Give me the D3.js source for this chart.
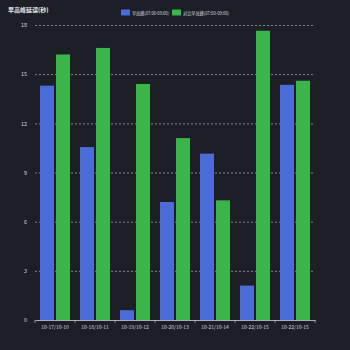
<!DOCTYPE html>
<html><head><meta charset="utf-8">
<script src="https://cdn.jsdelivr.net/npm/d3@7/dist/d3.min.js"></script>
<style>html,body{margin:0;padding:0;background:#1c1f26;}svg{display:block;}</style>
</head><body>
<script>
const categories = ["10-17/10-10","10-18/10-11","10-19/10-12","10-20/10-13","10-21/10-14","10-22/10-15","10-22/10-15"];
const seriesNames = ["早高峰(07:00-09:00)","对比早高峰(07:00-09:00)"];
const seriesA = [14.3, 10.55, 0.6, 7.2, 10.15, 2.1, 14.35];
const seriesB = [16.2, 16.6, 14.4, 11.1, 7.3, 17.65, 14.6];
const yTicks = [0,3,6,9,12,15,18];
const colors = ["#4a6bd8","#3ab54a"];

const W=350,H=350, m={l:35,r:35,t:25,b:30};
const svg=d3.select("body").append("svg").attr("width",W).attr("height",H);
svg.append("rect").attr("width",W).attr("height",H).attr("fill","#1c1f26");
const x=d3.scaleBand().domain(d3.range(categories.length)).range([m.l,W-m.r]).paddingInner(0).paddingOuter(0);
const y=d3.scaleLinear().domain([0,18]).range([H-m.b,m.t]);
const x1=d3.scaleBand().domain([0,1]).range([0,x.bandwidth()]).paddingInner(0.125).paddingOuter(0.3125);
const font="'Noto Sans CJK SC','Noto Sans',sans-serif";

// grid
const ya=svg.append("g").attr("transform",`translate(${m.l},0)`)
  .call(d3.axisLeft(y).tickValues(yTicks).tickSize(-(W-m.l-m.r)).tickPadding(8));
ya.select(".domain").remove();
ya.selectAll(".tick line").attr("stroke","#cfd2d8").attr("stroke-dasharray","2,2").attr("stroke-width",0.6)
  .filter(d=>d===0).remove();
ya.selectAll(".tick text").attr("fill","#d7d9de").attr("font-size",5.5).attr("font-family",font);

const g=svg.append("g");
const data=categories.map((c,i)=>({i,vals:[seriesA[i],seriesB[i]]}));
g.selectAll("g").data(data).join("g").attr("transform",d=>`translate(${x(d.i)},0)`)
 .selectAll("rect").data(d=>d.vals.map((v,k)=>({v,k}))).join("rect")
 .attr("x",d=>x1(d.k)).attr("width",x1.bandwidth())
 .attr("y",d=>y(d.v)).attr("height",d=>y(0)-y(d.v)).attr("fill",d=>colors[d.k]);

const xa=svg.append("g").attr("transform",`translate(0,${H-m.b})`)
  .call(d3.axisBottom(x).tickFormat(i=>categories[i]).tickSize(0).tickPadding(5));
xa.select(".domain").attr("stroke","#cfd2d8").attr("stroke-width",0.8);
xa.selectAll(".tick text").attr("fill","#d7d9de").attr("font-size",5).attr("font-family",font);
// boundary ticks
svg.append("g").selectAll("line").data(d3.range(categories.length+1)).join("line")
  .attr("x1",i=>m.l+i*x.step()).attr("x2",i=>m.l+i*x.step())
  .attr("y1",H-m.b).attr("y2",H-m.b+3).attr("stroke","#cfd2d8").attr("stroke-width",0.6);

svg.append("text").attr("x",8).attr("y",12).text("早高峰延误(秒)").attr("fill","#e6e8ec")
  .attr("font-size",6).attr("font-weight","bold").attr("font-family",font);

const leg=svg.append("g");
const lx=[121,172], lw=[37,46];
seriesNames.forEach((n,k)=>{
  leg.append("rect").attr("x",lx[k]).attr("y",9.5).attr("width",9).attr("height",6).attr("fill",colors[k]);
  leg.append("text").attr("x",lx[k]+11).attr("y",14.5).text(n).attr("fill","#d7d9de")
    .attr("font-size",4.8).attr("font-family",font)
    .attr("textLength",lw[k]).attr("lengthAdjust","spacingAndGlyphs");
});
</script>
</body></html>
